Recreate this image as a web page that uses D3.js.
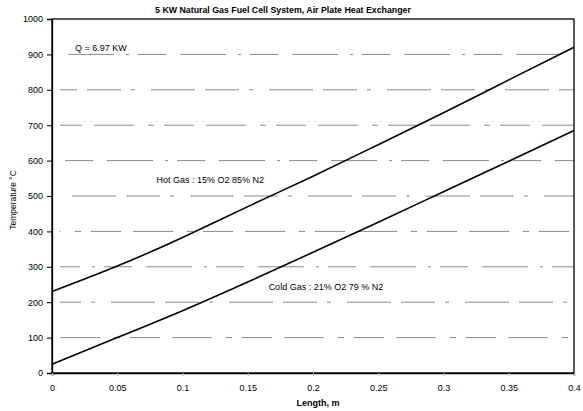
<!DOCTYPE html>
<html><head><meta charset="utf-8">
<script src="https://cdn.jsdelivr.net/npm/d3@7"></script>
<style>body{margin:0;background:#fff}text{font-family:"Liberation Sans",Arial,sans-serif}</style>
</head><body><svg id="c" width="583" height="411"></svg>
<script>
const lengths = [0, 0.05, 0.1, 0.15, 0.2, 0.25, 0.3, 0.35, 0.4];
const hotGas = [230, 302, 383, 470, 556, 645, 735, 828, 920];
const coldGas = [25, 100, 176, 257, 341, 426, 512, 598, 685];
const xTicks = [0, 0.05, 0.1, 0.15, 0.2, 0.25, 0.3, 0.35, 0.4];
const yTicks = [0, 100, 200, 300, 400, 500, 600, 700, 800, 900, 1000];
const titleText = "5 KW Natural Gas Fuel Cell System, Air Plate Heat Exchanger";
const notes = [
  {text: "Q = 6.97 KW", x: 0.0176, y: 909},
  {text: "Hot Gas : 15% O2 85% N2", x: 0.08, y: 536},
  {text: "Cold Gas : 21% O2 79 % N2", x: 0.166, y: 234}
];

const svg = d3.select("#c");
const m = {l: 52, r: 574, t: 19, b: 373};
const x = d3.scaleLinear().domain([0, 0.4]).range([m.l, m.r]);
const y = d3.scaleLinear().domain([0, 1000]).range([m.b, m.t]);

// grid
svg.append("g").selectAll("line").data(yTicks.filter(d => d > 0 && d < 1000)).join("line")
  .attr("x1", m.l + 8).attr("x2", m.r).attr("y1", d => y(d)).attr("y2", d => y(d))
  .attr("stroke", "#8a8a8a").attr("stroke-width", 1)
  .attr("stroke-dasharray", (d, i) => ["40,14,6,10,30,12", "34,10,4,16,44,10", "46,12,3,9,28,14"][i % 3])
  .attr("stroke-dashoffset", (d, i) => i * 13);

// frame
svg.append("rect").attr("x", m.l).attr("y", m.t).attr("width", m.r - m.l).attr("height", m.b - m.t)
  .attr("fill", "none").attr("stroke", "#000").attr("stroke-width", 1.3);

// axes
const ya = svg.append("g").attr("transform", `translate(${m.l},0)`)
  .call(d3.axisLeft(y).tickValues(yTicks).tickSize(5).tickPadding(4).tickFormat(d3.format("d")));
const xa = svg.append("g").attr("transform", `translate(0,${m.b})`)
  .call(d3.axisBottom(x).tickValues(xTicks).tickSize(3).tickPadding(9).tickFormat(d => d === 0 ? "0" : String(d)));
[ya, xa].forEach(g => {
  g.select(".domain").attr("stroke", "#000").attr("stroke-width", 1.3);
  g.selectAll("text").attr("font-size", 9).attr("fill", "#000");
  g.selectAll(".tick line").attr("stroke", "#000");
});
xa.selectAll(".tick line").attr("stroke", "#bbb");

// lines
const line = d3.line().x((d, i) => x(lengths[i])).y(d => y(d)).curve(d3.curveNatural);
[hotGas, coldGas].forEach(s => {
  svg.append("path").attr("d", line(s)).attr("fill", "none").attr("stroke", "#000").attr("stroke-width", 1.6);
});

// texts
svg.append("text").attr("x", 283).attr("y", 13).attr("text-anchor", "middle")
  .attr("font-size", 8.8).attr("font-weight", "bold").text(titleText);
svg.append("text").attr("x", 318).attr("y", 406).attr("text-anchor", "middle")
  .attr("font-size", 9).attr("font-weight", "bold").text("Length, m");
svg.append("text").attr("transform", "translate(16,200) rotate(-90)").attr("text-anchor", "middle")
  .attr("font-size", 8.5).text("Temperature °C");
svg.append("g").selectAll("text").data(notes).join("text")
  .attr("x", d => x(d.x)).attr("y", d => y(d.y)).attr("font-size", 9).text(d => d.text);
</script></body></html>
